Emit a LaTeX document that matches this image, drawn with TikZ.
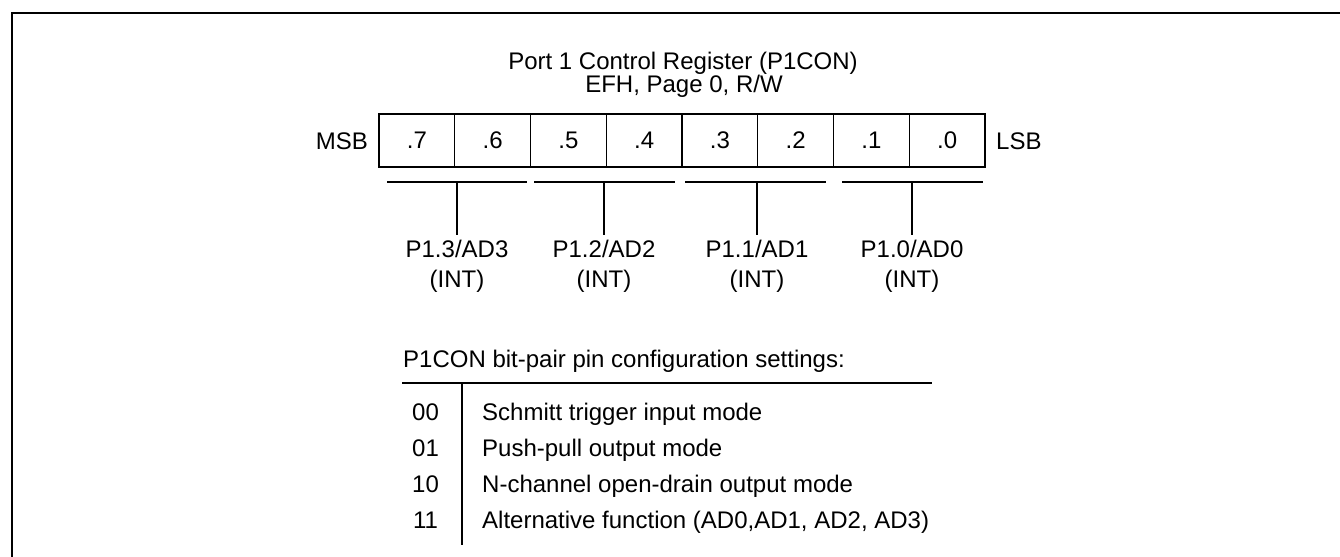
\documentclass[tikz,border=0pt]{standalone}
\usepackage{fontspec}
\setmainfont{Liberation Sans}
\begin{document}
\begin{tikzpicture}[x=1bp,y=-1bp,
  every node/.style={font=\fontsize{24bp}{28bp}\selectfont, inner sep=0pt, text=black},
  cell/.style={draw, line width=1.3bp, minimum width=75.75bp, minimum height=53bp, anchor=center},
  thinline/.style={line width=1.3bp},
  frameline/.style={line width=2.4bp}]
\useasboundingbox (0,0) rectangle (1340,557);
% frame (top and left edges only)
\coordinate (fbl) at (12,557);
\coordinate (ftl) at (12,13);
\coordinate (ftr) at (1340,13);
\draw[frameline] (fbl) -- (ftl) -- (ftr);
% title
\node[anchor=base] (title1) at (683,69.5) {Port 1 Control Register (P1CON)};
\node[anchor=base] (title2) at (684,93) {EFH, Page 0, R/W};
% register cells
\foreach \i in {0,...,7} {
  \pgfmathtruncatemacro\n{7-\i}
  \node[cell] (b\n) at ({379+75.75*(\i+0.5)},140.5) {\raisebox{-1.5bp}{.\n}};
}
\node[anchor=base east] (msb) at (368,149.5) {MSB};
\node[anchor=base west] (lsb) at (996,149.5) {LSB};
% bit-pair brackets and labels
\foreach \l/\r/\s/\k in {387/527/457/3, 534/675/604/2, 685/826/757/1, 842/983/912/0} {
  \coordinate (gl\k) at (\l,182);
  \coordinate (gr\k) at (\r,182);
  \coordinate (gs\k) at (\s,182);
  \coordinate (ge\k) at (\s,235);
  \draw[thinline] (gl\k) -- (gr\k);
  \draw[thinline] (gs\k) -- (ge\k);
  \node[anchor=base] (pa\k) at (\s,258) {P1.\k/AD\k};
  \node[anchor=base] (pb\k) at (\s,287) {(INT)};
}
% settings table
\node[anchor=base west] (head) at (403,367) {P1CON bit-pair pin configuration settings:};
\coordinate (ul) at (402,383);
\coordinate (ur) at (932,383);
\draw[thinline] (ul) -- (ur);
\coordinate (vt) at (462,383);
\coordinate (vb) at (462,545);
\draw[thinline] (vt) -- (vb);
\foreach \c/\d/\y in {00/{Schmitt trigger input mode}/420.5,
                      01/{Push-pull output mode}/456,
                      10/{N-channel open-drain output mode}/492.5,
                      11/{Alternative function (AD0,AD1, AD2, AD3)}/528.5} {
  \node[anchor=base] (c\c) at (425.5,\y) {\c};
  \node[anchor=base west] (d\c) at (482,\y) {\d};
}
\end{tikzpicture}
\end{document}
